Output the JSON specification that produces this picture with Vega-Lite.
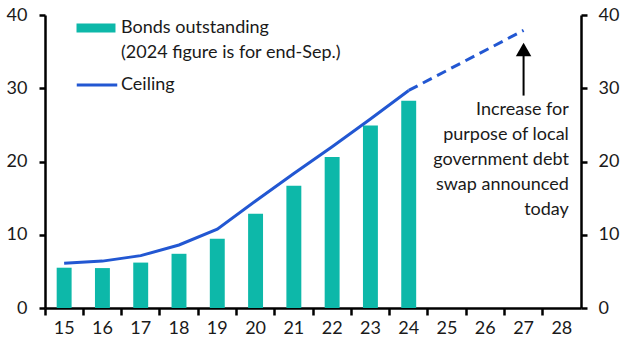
{
  "$schema": "https://vega.github.io/schema/vega-lite/v6.json",
  "width": 536,
  "height": 293,
  "autosize": {"type": "none"},
  "padding": {"left": 45, "top": 15, "right": 49, "bottom": 47},
  "config": {
    "view": {"stroke": null},
    "font": "Lato",
    "axis": {
      "labelFont": "Lato",
      "labelFontSize": 18,
      "labelColor": "#1a1a1a",
      "domainColor": "#000000",
      "domainWidth": 2.5,
      "tickColor": "#000000",
      "tickWidth": 2.5,
      "grid": false,
      "title": null
    },
    "legend": {
      "labelFont": "Lato",
      "labelFontSize": 18,
      "labelColor": "#1a1a1a",
      "labelLimit": 400,
      "padding": 0,
      "title": null
    }
  },
  "datasets": {
    "bonds": [
      {"year": "15", "value": 5.5},
      {"year": "16", "value": 5.45},
      {"year": "17", "value": 6.2},
      {"year": "18", "value": 7.4},
      {"year": "19", "value": 9.45},
      {"year": "20", "value": 12.85},
      {"year": "21", "value": 16.7},
      {"year": "22", "value": 20.6},
      {"year": "23", "value": 24.9},
      {"year": "24", "value": 28.3}
    ],
    "ceiling": [
      {"year": "15", "value": 6.1},
      {"year": "16", "value": 6.4},
      {"year": "17", "value": 7.15},
      {"year": "18", "value": 8.6},
      {"year": "19", "value": 10.75},
      {"year": "20", "value": 14.6},
      {"year": "21", "value": 18.35},
      {"year": "22", "value": 22.0},
      {"year": "23", "value": 25.8},
      {"year": "24", "value": 29.7}
    ],
    "ceilingNew": [
      {"year": "24", "value": 29.7},
      {"year": "27", "value": 37.9}
    ],
    "arrow": [
      {"year": "27", "y0": 29.0, "y1": 35.0, "head": 35.3}
    ],
    "note": [
      {"year": "28", "y": 27.0, "text": "Increase for\npurpose of local\ngovernment debt\nswap announced\ntoday"}
    ]
  },
  "encoding": {
    "x": {
      "field": "year",
      "type": "ordinal",
      "scale": {
        "domain": ["15", "16", "17", "18", "19", "20", "21", "22", "23", "24", "25", "26", "27", "28"],
        "paddingInner": 0,
        "paddingOuter": 0
      },
      "axis": {"bandPosition": 0, "labelAngle": 0, "tickSize": 7, "labelPadding": 4}
    }
  },
  "layer": [
    {
      "data": {"name": "bonds"},
      "mark": {"type": "bar", "width": {"band": 0.39}},
      "encoding": {
        "y": {
          "field": "value",
          "type": "quantitative",
          "scale": {"domain": [0, 40], "nice": false},
          "axis": {"orient": "left", "values": [0, 10, 20, 30, 40], "tickSize": 6, "labelPadding": 12}
        },
        "fill": {
          "datum": "Bonds outstanding",
          "scale": {
            "domain": ["Bonds outstanding", "(2024 figure is for end-Sep.)"],
            "range": ["#0db8a9", "rgba(0,0,0,0)"]
          },
          "legend": {
            "orient": "none",
            "legendX": 42,
            "legendY": 4,
            "symbolType": "M-4.33,-1H4.33V1H-4.33Z",
            "symbolSize": 81,
            "symbolStrokeWidth": 0,
            "labelOffset": 16,
            "rowPadding": 7
          }
        }
      }
    },
    {
      "data": {"name": "ceiling"},
      "mark": {"type": "line", "strokeWidth": 3},
      "encoding": {
        "y": {
          "field": "value",
          "type": "quantitative",
          "axis": {"orient": "right", "values": [0, 10, 20, 30, 40], "tickSize": 6, "labelPadding": 11}
        },
        "stroke": {
          "datum": "Ceiling",
          "scale": {"domain": ["Ceiling"], "range": ["#2257d2"]},
          "legend": {
            "orient": "none",
            "legendX": 30,
            "legendY": 48,
            "symbolType": "stroke",
            "symbolSize": 1640,
            "symbolStrokeWidth": 3,
            "labelOffset": 2
          }
        }
      }
    },
    {
      "data": {"name": "ceilingNew"},
      "mark": {"type": "line", "strokeWidth": 3, "strokeDash": [10, 6]},
      "encoding": {
        "y": {"field": "value", "type": "quantitative", "axis": null},
        "stroke": {"datum": "Ceiling"}
      }
    },
    {
      "data": {"name": "arrow"},
      "mark": {"type": "rule", "color": "#000000", "strokeWidth": 2},
      "encoding": {
        "y": {"field": "y0", "type": "quantitative", "axis": null},
        "y2": {"field": "y1"}
      }
    },
    {
      "data": {"name": "arrow"},
      "mark": {"type": "point", "shape": "triangle-up", "filled": true, "color": "#000000", "size": 240, "opacity": 1},
      "encoding": {
        "y": {"field": "head", "type": "quantitative", "axis": null}
      }
    },
    {
      "data": {"name": "note"},
      "mark": {
        "type": "text",
        "align": "right",
        "baseline": "middle",
        "dx": 7,
        "fontSize": 18,
        "lineHeight": 25,
        "lineBreak": "\n",
        "color": "#1a1a1a"
      },
      "encoding": {
        "y": {"field": "y", "type": "quantitative", "axis": null},
        "text": {"field": "text"}
      }
    }
  ],
  "resolve": {"scale": {"y": "shared"}, "axis": {"y": "independent"}}
}
